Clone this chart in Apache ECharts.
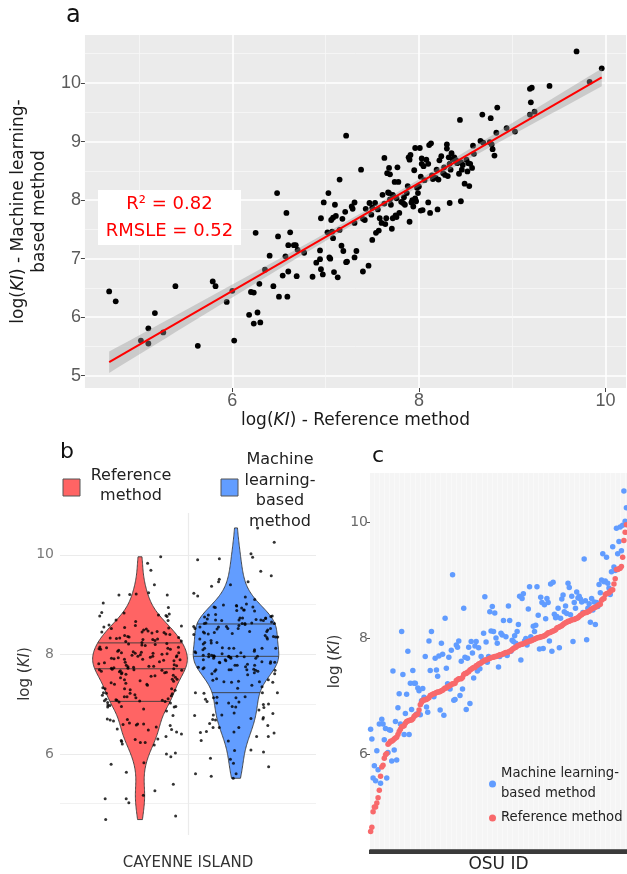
<!DOCTYPE html>
<html><head><meta charset="utf-8">
<script src="https://cdn.jsdelivr.net/npm/echarts@6/dist/echarts.min.js"></script>
<style>html,body{margin:0;padding:0;background:#fff}#c{width:627px;height:874px}</style>
</head><body><div id="c"></div>
<script>
// log(KI) - Reference method (one value per OSU)
const refValues = [4.68,4.75,5.02,5.10,5.10,5.17,5.26,5.39,5.63,5.79,5.82,5.94,6.00,6.02,6.18,6.20,6.23,6.23,6.27,6.30,
6.29,6.25,6.35,6.40,6.44,6.48,6.49,6.50,6.54,6.57,6.58,6.59,6.60,6.60,6.62,6.66,6.68,6.69,6.70,6.77,
6.86,6.90,6.94,6.94,6.95,6.95,6.97,6.98,7.03,7.02,7.04,7.05,7.06,7.07,7.08,7.08,7.09,7.10,7.11,7.13,
7.15,7.15,7.17,7.18,7.19,7.21,7.22,7.22,7.23,7.28,7.29,7.31,7.31,7.33,7.31,7.38,7.40,7.40,7.42,7.43,
7.46,7.47,7.49,7.50,7.50,7.53,7.54,7.56,7.57,7.58,7.60,7.61,7.63,7.63,7.64,7.65,7.66,7.67,7.68,7.69,
7.68,7.69,7.70,7.71,7.72,7.72,7.73,7.74,7.75,7.76,7.77,7.78,7.79,7.76,7.81,7.83,7.84,7.85,7.87,7.88,
7.90,7.89,7.90,7.91,7.92,7.93,7.94,7.95,7.96,7.96,7.97,7.98,7.99,8.00,8.01,8.02,8.02,8.03,8.03,8.04,
8.05,8.06,8.08,8.10,8.10,8.11,8.12,8.13,8.14,8.15,8.18,8.19,8.20,8.21,8.22,8.24,8.26,8.27,8.28,8.30,
8.30,8.31,8.33,8.32,8.33,8.34,8.35,8.36,8.38,8.40,8.41,8.43,8.44,8.45,8.45,8.46,8.47,8.49,8.51,8.52,
8.53,8.54,8.55,8.57,8.58,8.59,8.66,8.68,8.69,8.76,8.77,8.78,8.79,8.81,8.83,8.84,8.94,9.03,9.19,9.20,
9.21,9.19,9.24,9.40,9.69,9.83,9.96];
// log(KI) - Machine learning-based method (same OSUs, same order)
const mlValues = [6.44,6.27,5.60,5.81,5.55,6.07,5.74,6.53,5.51,6.61,6.53,6.26,6.45,5.60,6.04,6.43,6.42,5.89,6.08,5.91,
6.57,7.44,6.81,7.05,6.53,8.12,7.38,6.35,6.71,7.04,7.78,6.35,7.23,6.78,7.45,7.23,7.23,6.70,7.15,7.10,
6.69,6.93,7.14,6.99,7.69,6.82,6.73,7.96,8.12,7.45,7.02,7.00,7.66,7.46,7.35,7.70,6.77,7.92,7.73,6.68,
8.35,7.49,7.22,7.68,7.13,7.80,9.10,6.94,6.95,7.89,7.85,7.96,7.02,7.13,7.61,8.52,7.68,6.78,7.66,7.85,
6.88,7.95,7.75,7.32,7.87,7.95,7.44,7.84,7.48,7.69,7.61,8.09,8.72,7.94,7.59,7.69,8.46,8.13,8.55,8.44,
8.12,8.01,7.92,7.51,7.69,8.09,8.06,8.31,7.74,8.03,8.56,8.31,7.78,7.71,7.97,7.95,8.05,7.92,8.12,8.24,
7.63,8.73,8.69,8.77,7.96,8.00,7.89,8.51,8.89,8.03,7.98,8.21,8.12,8.23,8.89,8.40,7.82,8.71,8.62,7.83,
8.58,8.34,8.69,8.62,7.96,8.94,7.78,8.97,8.42,8.36,8.38,8.52,7.84,8.35,8.68,8.75,8.46,8.56,8.43,8.95,
8.88,8.41,7.95,8.73,8.62,8.52,8.80,8.70,8.73,8.68,8.63,8.45,9.37,8.65,7.98,8.52,8.60,8.28,8.69,8.49,
8.63,8.24,8.62,8.55,8.93,8.79,9.01,9.46,8.98,8.99,9.40,8.95,8.87,8.76,9.15,9.58,9.23,9.17,9.90,9.67,
9.92,9.46,9.51,9.95,10.54,10.02,10.25];

const statR2 = '0.82';
const statRMSLE = '0.52';
const aMajorX = [6, 8, 10], aMinorX = [5, 7, 9];
const aMajorY = [5, 6, 7, 8, 9, 10], aMinorY = [5.5, 6.5, 7.5, 8.5, 9.5, 10.5];
const bMajorY = [6, 8, 10], bMinorY = [5, 7, 9];
const cMajorY = [6, 8, 10];
const groupLabel = 'CAYENNE ISLAND';
const refName = 'Reference method';
const mlName = 'Machine learning-\nbased method';

// ---------- statistics derived from the data ----------
function linFit(x, y) {
  const n = x.length;
  const mx = x.reduce((a, b) => a + b, 0) / n, my = y.reduce((a, b) => a + b, 0) / n;
  let sxx = 0, sxy = 0;
  for (let i = 0; i < n; i++) { sxx += (x[i] - mx) ** 2; sxy += (x[i] - mx) * (y[i] - my); }
  const b = sxy / sxx, a = my - b * mx;
  let rss = 0;
  for (let i = 0; i < n; i++) rss += (y[i] - a - b * x[i]) ** 2;
  return { a, b, s: Math.sqrt(rss / (n - 2)), mx, sxx, n };
}
function quantile(vals, p) {
  const s = vals.slice().sort((a, b) => a - b);
  const h = (s.length - 1) * p, lo = Math.floor(h);
  return lo + 1 < s.length ? s[lo] + (h - lo) * (s[lo + 1] - s[lo]) : s[lo];
}
function kde(vals) {
  const n = vals.length;
  const mean = vals.reduce((a, b) => a + b, 0) / n;
  const sd = Math.sqrt(vals.reduce((a, b) => a + (b - mean) ** 2, 0) / (n - 1));
  const iqr = quantile(vals, 0.75) - quantile(vals, 0.25);
  const bw = 0.9 * Math.min(sd, iqr / 1.34) * Math.pow(n, -0.2);
  const lo = Math.min(...vals), hi = Math.max(...vals);
  const ys = [], ds = [];
  for (let k = 0; k <= 200; k++) {
    const y = lo + (hi - lo) * k / 200;
    let d = 0;
    for (const v of vals) d += Math.exp(-0.5 * ((y - v) / bw) ** 2);
    ys.push(y); ds.push(d / (n * bw * Math.sqrt(2 * Math.PI)));
  }
  return { ys, ds };
}
const fit = linFit(refValues, mlValues);
const xLo = Math.min(...refValues), xHi = Math.max(...refValues);
const bandUpper = [], bandLower = [];
for (let k = 0; k <= 60; k++) {
  const x = xLo + (xHi - xLo) * k / 60;
  const yh = fit.a + fit.b * x;
  const se = fit.s * Math.sqrt(1 / fit.n + (x - fit.mx) ** 2 / fit.sxx) * 1.97;
  bandUpper.push([x, yh + se]); bandLower.push([x, yh - se]);
}
const fitLine = [[xLo, fit.a + fit.b * xLo], [xHi, fit.a + fit.b * xHi]];

const refK = kde(refValues), mlK = kde(mlValues);
const maxD = Math.max(...refK.ds, ...mlK.ds);
const halfW = 0.37, refPos = -0.375, mlPos = 0.375, jitterW = 0.33;

function violinSeries(k, vals, center, color, name) {
  const qs = [0.25, 0.5, 0.75].map(p => quantile(vals, p));
  const widthAt = y => {
    for (let i = 1; i < k.ys.length; i++) if (k.ys[i] >= y) {
      const t = (y - k.ys[i - 1]) / (k.ys[i] - k.ys[i - 1]);
      return (k.ds[i - 1] + t * (k.ds[i] - k.ds[i - 1])) / maxD * halfW;
    }
    return 0;
  };
  return {
    type: 'custom', name, xAxisIndex: 2, yAxisIndex: 2, z: 3, silent: true,
    data: [[center, k.ys[0]]],
    renderItem: (params, api) => {
      const pts = [];
      for (let i = 0; i < k.ys.length; i++) pts.push(api.coord([center + k.ds[i] / maxD * halfW, k.ys[i]]));
      for (let i = k.ys.length - 1; i >= 0; i--) pts.push(api.coord([center - k.ds[i] / maxD * halfW, k.ys[i]]));
      const children = [{ type: 'polygon', shape: { points: pts }, style: { fill: color, stroke: '#3a3a3a', lineWidth: 0.9 } }];
      qs.forEach(q => {
        const w = widthAt(q);
        const p1 = api.coord([center - w, q]), p2 = api.coord([center + w, q]);
        children.push({ type: 'line', shape: { x1: p1[0], y1: p1[1], x2: p2[0], y2: p2[1] }, style: { stroke: '#3a3a3a', lineWidth: 0.9 } });
      });
      return { type: 'group', children };
    }
  };
}
// deterministic, well-scrambled horizontal spread for the jittered points (position only)
function spread(i, seed) {
  let h = (i + 1) * 2654435761 ^ seed;
  h = Math.imul(h ^ (h >>> 16), 0x45d9f3b);
  h = Math.imul(h ^ (h >>> 16), 0x45d9f3b);
  h = h ^ (h >>> 16);
  return ((h >>> 0) % 10000) / 10000 * 2 - 1;
}
const refJit = refValues.map((v, i) => [refPos + spread(i, 1234567) * jitterW, v]);
const mlJit = mlValues.map((v, i) => [mlPos + spread(i, 7654321) * jitterW, v]);

// panel c: OSUs ordered by reference value
const order = refValues.map((v, i) => i).sort((a, b) => refValues[a] - refValues[b]);
const osuIds = order.map((i, r) => String(r + 1));
const cRef = order.map(i => refValues[i]);
const cMl = order.map(i => mlValues[i]);

const FF = 'DejaVu Sans';
const rich17 = { i: { fontStyle: 'italic', fontSize: 17, fontFamily: FF, color: '#1a1a1a' } };
const rich15 = { i: { fontStyle: 'italic', fontSize: 15, fontFamily: FF, color: '#333' } };

const chart = echarts.init(document.getElementById('c'), null, { renderer: 'canvas' });
chart.setOption({
  animation: false,
  backgroundColor: '#fff',
  grid: [
    { left: 68, top: 35, width: 558, height: 353, show: true, backgroundColor: '#EBEBEB', borderWidth: 0 },
    { left: 60, top: 513, width: 256, height: 322 },
    { left: 370, top: 473, width: 257, height: 380, show: true, backgroundColor: '#F9F9F9', borderWidth: 0 }
  ],
  xAxis: [
    { gridIndex: 0, type: 'value', min: 4.42, max: 10.22,
      axisLine: { show: false },
      axisTick: { show: true, customValues: aMajorX, length: 4, lineStyle: { color: '#444' } },
      axisLabel: { customValues: aMajorX, fontSize: 18, color: '#5a5a5a', fontFamily: 'Liberation Sans', margin: 4 },
      splitLine: { show: true, lineStyle: { color: '#FFFFFF', width: 1.6 } },
      name: 'log({i|KI}) - Reference method', nameLocation: 'middle', nameGap: 24,
      nameTextStyle: { fontSize: 17, fontFamily: FF, color: '#1a1a1a', rich: rich17 } },
    { gridIndex: 0, type: 'value', min: 4.42, max: 10.22, position: 'top',
      axisLine: { show: false }, axisTick: { show: false, customValues: aMinorX }, axisLabel: { show: false },
      splitLine: { show: true, lineStyle: { color: '#F7F7F7', width: 0.8 } } },
    { gridIndex: 1, type: 'value', min: -1, max: 1,
      axisLine: { show: false }, axisTick: { show: false, customValues: [0] }, axisLabel: { show: false },
      splitLine: { show: true, lineStyle: { color: '#EBEBEB', width: 1.2 } },
      name: groupLabel, nameLocation: 'middle', nameGap: 21,
      nameTextStyle: { fontSize: 15, fontFamily: FF, color: '#333' } },
    { gridIndex: 2, type: 'category', data: osuIds, boundaryGap: true,
      axisLine: { show: true, lineStyle: { color: '#333', width: 1.5 } },
      axisTick: { show: true, interval: 0, length: 4, lineStyle: { color: '#3a3a3a', width: 2 } },
      axisLabel: { show: false },
      splitLine: { show: true, interval: 0, lineStyle: { color: '#F1F1F1', width: 0.6 } },
      name: 'OSU ID', nameLocation: 'middle', nameGap: 6,
      nameTextStyle: { fontSize: 17, fontFamily: FF, color: '#222' } }
  ],
  yAxis: [
    { gridIndex: 0, type: 'value', min: 4.79, max: 10.82,
      axisLine: { show: false },
      axisTick: { show: true, customValues: aMajorY, length: 4, lineStyle: { color: '#444' } },
      axisLabel: { customValues: aMajorY, fontSize: 18, color: '#5a5a5a', fontFamily: 'Liberation Sans', margin: 4 },
      splitLine: { show: true, lineStyle: { color: '#FFFFFF', width: 1.6 } },
      name: 'log({i|KI}) - Machine learning-\nbased method', nameLocation: 'middle', nameGap: 17, nameRotate: 90,
      nameTextStyle: { fontSize: 17, lineHeight: 21, fontFamily: FF, color: '#1a1a1a', rich: { i: { fontStyle: 'italic', fontSize: 17, lineHeight: 21, fontFamily: FF, color: '#1a1a1a' } } } },
    { gridIndex: 0, type: 'value', min: 4.79, max: 10.82, position: 'right',
      axisLine: { show: false }, axisTick: { show: false, customValues: aMinorY }, axisLabel: { show: false },
      splitLine: { show: true, lineStyle: { color: '#F7F7F7', width: 0.8 } } },
    { gridIndex: 1, type: 'value', min: 4.37, max: 10.84,
      axisLine: { show: false },
      axisTick: { show: false, customValues: bMajorY },
      axisLabel: { customValues: bMajorY, fontSize: 14, color: '#7a7a7a', fontFamily: FF, margin: 6 },
      splitLine: { show: true, lineStyle: { color: '#EBEBEB', width: 1.2 } },
      name: 'log ({i|KI})', nameLocation: 'middle', nameGap: 27, nameRotate: 90,
      nameTextStyle: { fontSize: 15, fontFamily: FF, color: '#333', rich: rich15 } },
    { gridIndex: 1, type: 'value', min: 4.37, max: 10.84, position: 'right',
      axisLine: { show: false }, axisTick: { show: false, customValues: bMinorY }, axisLabel: { show: false },
      splitLine: { show: true, lineStyle: { color: '#F1F1F1', width: 1 } } },
    { gridIndex: 2, type: 'value', min: 4.36, max: 10.85,
      axisLine: { show: false },
      axisTick: { show: true, customValues: cMajorY, length: 3, lineStyle: { color: '#555' } },
      axisLabel: { customValues: cMajorY, fontSize: 14, color: '#6a6a6a', fontFamily: FF, margin: 2 },
      splitLine: { show: false },
      name: 'log ({i|KI})', nameLocation: 'middle', nameGap: 27, nameRotate: 90,
      nameTextStyle: { fontSize: 15, fontFamily: FF, color: '#333', rich: rich15 } }
  ],
  legend: {
    data: [mlName, refName], orient: 'vertical', left: 489, top: 764, padding: 0,
    icon: 'circle', itemWidth: 7, itemHeight: 7, itemGap: 4, selectedMode: false,
    textStyle: { fontSize: 13.2, lineHeight: 20, fontFamily: FF, color: '#222' }
  },
  series: [
    { type: 'scatter', name: 'points a', xAxisIndex: 0, yAxisIndex: 0, z: 2,
      data: refValues.map((v, i) => [v, mlValues[i]]), symbolSize: 5.8,
      itemStyle: { color: '#000', opacity: 1 } },
    { type: 'custom', name: 'ci band', xAxisIndex: 0, yAxisIndex: 0, z: 3, silent: true,
      data: [[xLo, fit.a + fit.b * xLo]],
      renderItem: (params, api) => {
        const pts = bandUpper.map(p => api.coord(p)).concat(bandLower.slice().reverse().map(p => api.coord(p)));
        return { type: 'polygon', shape: { points: pts }, style: { fill: 'rgba(153,153,153,0.4)' } };
      } },
    { type: 'line', name: 'fit', xAxisIndex: 0, yAxisIndex: 0, z: 4, data: fitLine,
      showSymbol: false, lineStyle: { color: '#FF0000', width: 2 } },
    violinSeries(refK, refValues, refPos, '#FF6464', 'violin ref'),
    violinSeries(mlK, mlValues, mlPos, '#629DFF', 'violin ml'),
    { type: 'scatter', name: 'jit ref', xAxisIndex: 2, yAxisIndex: 2, z: 5, data: refJit,
      symbolSize: 3, itemStyle: { color: '#000' } },
    { type: 'scatter', name: 'jit ml', xAxisIndex: 2, yAxisIndex: 2, z: 5, data: mlJit,
      symbolSize: 3, itemStyle: { color: '#000' } },
    { type: 'scatter', name: mlName, xAxisIndex: 3, yAxisIndex: 4, z: 3, data: cMl,
      symbolSize: 5.5, itemStyle: { color: '#619CFF', opacity: 1 } },
    { type: 'scatter', name: refName, xAxisIndex: 3, yAxisIndex: 4, z: 4, data: cRef,
      symbolSize: 5.5, itemStyle: { color: '#F8696B', opacity: 1 } }
  ],
  graphic: [
    { type: 'text', left: 66, top: 4, style: { text: 'a', fontSize: 24, fontFamily: FF, fill: '#111' } },
    { type: 'rect', shape: { x: 98, y: 190, width: 143, height: 55 }, style: { fill: '#fff' }, z: 10 },
    { type: 'text', x: 169.5, y: 204, z: 11, style: { text: 'R\u00B2 = ' + statR2, fontSize: 18, fontFamily: FF, fill: '#FF0000', align: 'center', verticalAlign: 'middle' } },
    { type: 'text', x: 169.5, y: 231, z: 11, style: { text: 'RMSLE = ' + statRMSLE, fontSize: 18, fontFamily: FF, fill: '#FF0000', align: 'center', verticalAlign: 'middle' } },
    { type: 'text', left: 60, top: 441, style: { text: 'b', fontSize: 22, fontFamily: FF, fill: '#111' } },
    { type: 'rect', shape: { x: 63, y: 479, width: 17, height: 17 }, style: { fill: '#FF6464', stroke: '#555', lineWidth: 1 } },
    { type: 'text', x: 131, y: 486, style: { text: 'Reference\nmethod', fontSize: 16, lineHeight: 20, fontFamily: FF, fill: '#222', align: 'center', verticalAlign: 'middle' } },
    { type: 'rect', shape: { x: 221, y: 479, width: 17, height: 17 }, style: { fill: '#629DFF', stroke: '#555', lineWidth: 1 } },
    { type: 'text', x: 280, y: 491, style: { text: 'Machine\nlearning-\nbased\nmethod', fontSize: 16, lineHeight: 20.5, fontFamily: FF, fill: '#222', align: 'center', verticalAlign: 'middle' } },
    { type: 'text', left: 372, top: 445, style: { text: 'c', fontSize: 22, fontFamily: FF, fill: '#111' } }
  ]
});
</script></body></html>
